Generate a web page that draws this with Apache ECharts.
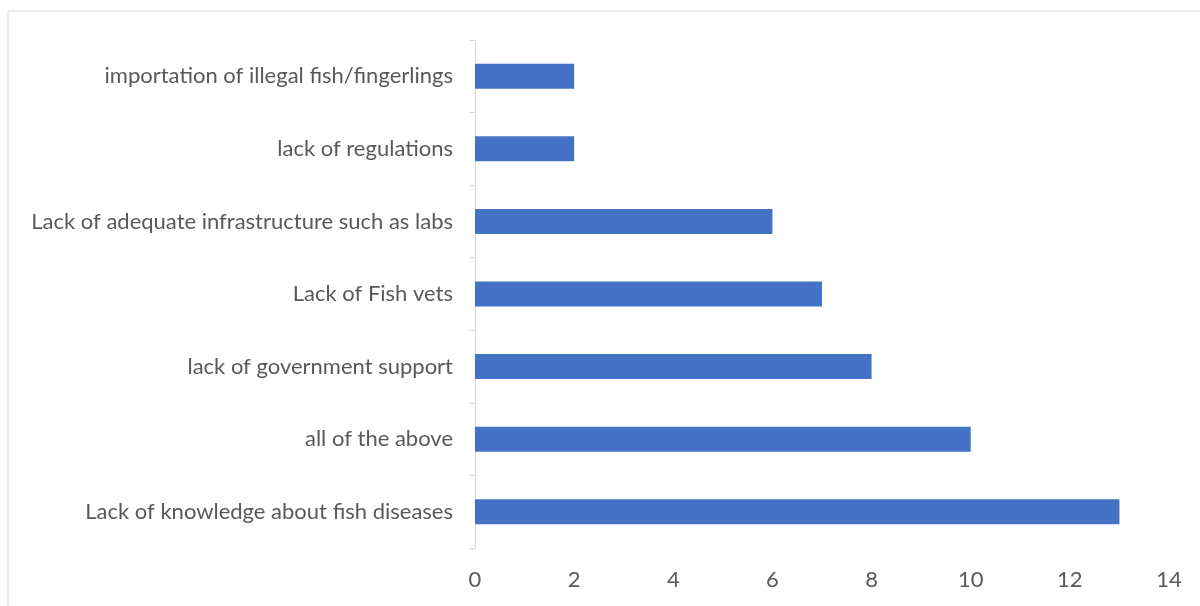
<!DOCTYPE html>
<html>
<head>
<meta charset="utf-8">
<script src="https://cdn.jsdelivr.net/npm/echarts@6/dist/echarts.min.js"></script>
<style>
  html, body { margin: 0; padding: 0; background: #fff; }
  #chart { width: 1200px; height: 606px; }
</style>
</head>
<body>
<div id="chart"></div>
<script>
// Challenges reported, listed bottom to top as ECharts draws a category y axis
const categories = [
  'Lack of knowledge about fish diseases',
  'all of the above',
  'lack of government support',
  'Lack of Fish vets',
  'Lack of adequate infrastructure such as labs',
  'lack of regulations',
  'importation of illegal fish/fingerlings'
];
const counts = [13, 10, 8, 7, 6, 2, 2];

const chart = echarts.init(document.getElementById('chart'));
chart.setOption({
  animation: false,
  backgroundColor: '#ffffff',
  textStyle: { fontFamily: 'Lato' },
  graphic: [{
    type: 'rect',
    shape: { x: 8, y: 11, width: 1400, height: 800 },
    style: { fill: 'none', stroke: '#d9d9d9', lineWidth: 1 },
    silent: true
  }],
  grid: { left: 475, right: 31, top: 40, bottom: 58 },
  xAxis: {
    type: 'value',
    min: 0,
    max: 14,
    interval: 2,
    axisLine: { show: false },
    axisTick: { show: false },
    splitLine: { show: false },
    axisLabel: { color: '#595959', fontSize: 22, margin: 21 }
  },
  yAxis: {
    type: 'category',
    data: categories,
    axisLine: { show: true, lineStyle: { color: '#d9d9d9', width: 1 } },
    axisTick: { show: true, length: 6, lineStyle: { color: '#d9d9d9' } },
    axisLabel: { color: '#595959', fontSize: 22, margin: 22 }
  },
  series: [{
    type: 'bar',
    data: counts,
    barWidth: 25,
    itemStyle: { color: '#4472c4' }
  }]
});
</script>
</body>
</html>
